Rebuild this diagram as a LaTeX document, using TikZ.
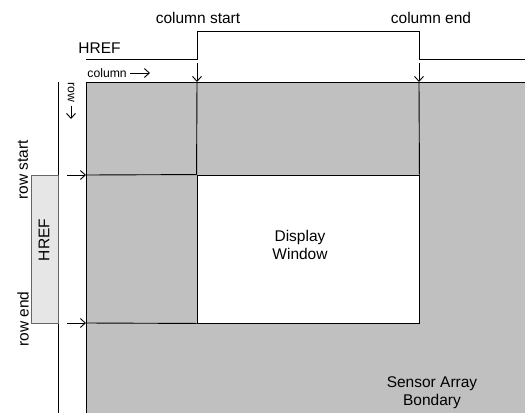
\documentclass[tikz,border=0pt]{standalone}
\usepackage{fontspec}
\setmainfont{Liberation Sans}
\usetikzlibrary{arrows.meta}
\definecolor{sensorgray}{HTML}{C0C0C0}
\definecolor{hrefgray}{HTML}{E6E6E6}

\begin{document}
\begin{tikzpicture}[
        x=1pt, y=-1pt,
        line width=0.9pt,
        font=\fontsize{15.5}{18}\selectfont,
        txt/.style={inner sep=0pt, align=center},
        small/.style={font=\fontsize{12.2}{14}\selectfont, inner sep=0pt},
        pin/.style={-{Straight Barb[length=5pt, width=9pt]}},
    ]
    \useasboundingbox (0,0) rectangle (525,413);

    %====================== SENSOR ARRAY ======================
    \fill[sensorgray] (86,82) rectangle (525,413);
    \coordinate (arr-sw) at (86,413);
    \coordinate (arr-nw) at (86,82);
    \coordinate (arr-ne) at (525,82);
    \draw (arr-sw) -- (arr-nw) -- (arr-ne);

    \node[draw, fill=white, minimum width=222pt, minimum height=148pt, inner sep=0pt] (win) at (308,249) {};
    \node[txt] (win-txt) at (300,245) {Display\\Window};
    \node[txt] (sensor-txt) at (432,393) {Sensor Array\\Bondary};

    %====================== COLUMN / ROW LINES ======================
    \coordinate (col-s) at (197,82);
    \coordinate (col-e) at (419,82);
    \coordinate (row-s) at (86,175);
    \coordinate (row-e) at (86,323);
    \draw (col-s) -- (win.north west);
    \draw (col-e) -- (win.north east);
    \draw (row-s) -- (win.north west);
    \draw (row-e) -- (win.south west);

    \coordinate (cs-tail) at (197,63);
    \coordinate (ce-tail) at (419,63);
    \coordinate (rs-tail) at (67,175);
    \coordinate (re-tail) at (67,323);
    \draw[pin] (cs-tail) -- (col-s);
    \draw[pin] (ce-tail) -- (col-e);
    \draw[pin] (rs-tail) -- (row-s);
    \draw[pin] (re-tail) -- (row-e);

    % scan directions
    \node[small, anchor=west] (col-dir) at (87,73) {column};
    \coordinate (col-dir-tip) at (150,73);
    \draw[pin] ([xshift=3pt]col-dir.east) -- (col-dir-tip);
    \node[small, anchor=west, rotate=-90] (row-dir) at (71,82) {row};
    \coordinate (row-dir-tip) at (71,119);
    \draw[pin] ([yshift=-3pt]row-dir.east) -- (row-dir-tip);

    %====================== HREF (top) ======================
    \draw (86,59) -- (197,59) -- (197,31) -- (419,31) -- (419,59) -- (525,59);
    \node[txt] (href-h) at (99.5,48) {HREF};
    \node[txt] (col-s-txt) at (198,18) {column start};
    \node[txt] (col-e-txt) at (431,18) {column end};

    %====================== HREF (left) ======================
    \draw (58,82) -- (58,413);
    \node[draw=black!60, fill=hrefgray, minimum width=27pt, minimum height=148pt, inner sep=0pt] (href-v) at (44.5,249) {};
    \node[txt, rotate=90] (href-v-txt) at (44,240) {HREF};
    \node[txt, rotate=90] (row-s-txt) at (23,170) {row start};
    \node[txt, rotate=90] (row-e-txt) at (23,319) {row end};

\end{tikzpicture}
\end{document}
